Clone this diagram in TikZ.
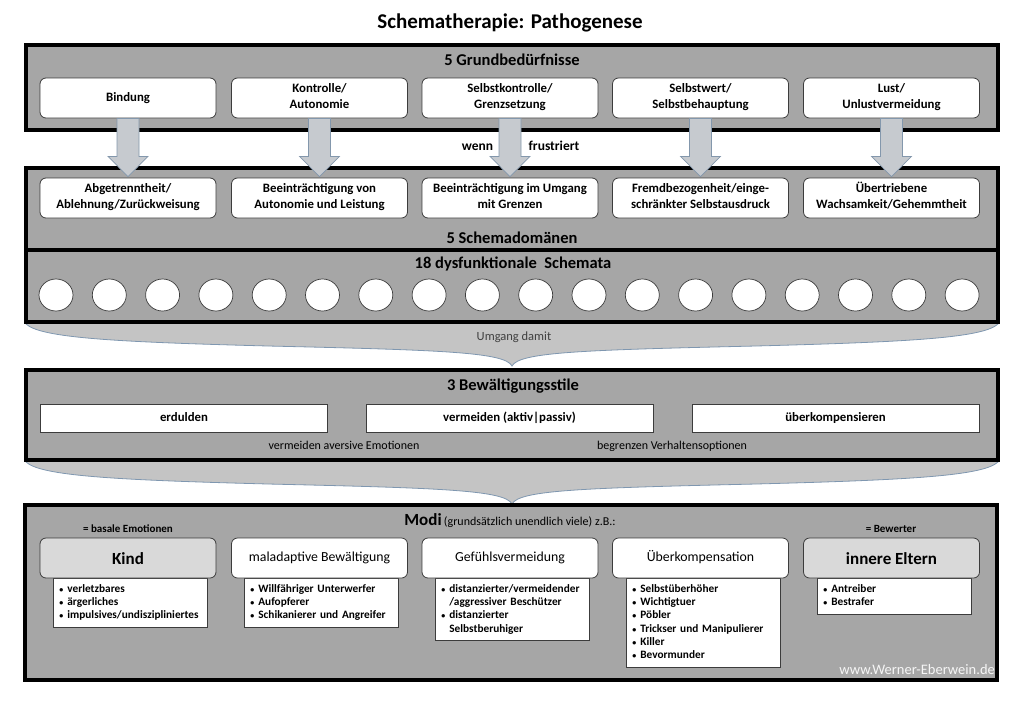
\documentclass[tikz,border=0pt]{standalone}
\usepackage{fontspec}
\setmainfont{Carlito}
\usetikzlibrary{shapes.geometric,calc}
\definecolor{panelgray}{HTML}{A6A6A6}
\definecolor{headgray}{HTML}{D9D9D9}
\definecolor{boxline}{HTML}{3C3C3C}
\definecolor{bracefill}{HTML}{C4C4C4}
\definecolor{braceline}{HTML}{7F97B0}
\definecolor{arrowfill}{HTML}{C6CACF}
\definecolor{arrowline}{HTML}{8397AC}
\begin{document}
\begin{tikzpicture}[x=1pt,y=-1pt,
  panel/.style={draw=black,line width=4pt,fill=panelgray,inner sep=0pt,minimum width=972pt},
  ptitle/.style={anchor=base,font=\fontsize{16.5}{18}\selectfont\bfseries,inner sep=0pt},
  needbox/.style={draw=boxline,line width=0.8pt,fill=white,rounded corners=6pt,minimum width=176pt,minimum height=40pt,align=center,font=\fontsize{12.8}{16}\selectfont\bfseries,inner sep=1pt,execute at begin node={\strut},execute at end node={\strut}},
  bigarrow/.style={draw=arrowline,line width=0.7pt,fill=arrowfill},
  brace/.style={draw=braceline,line width=0.8pt,fill=bracefill},
  schema/.style={ellipse,draw=boxline,line width=0.7pt,fill=white,minimum width=34pt,minimum height=32pt,inner sep=0pt},
  stilbox/.style={draw=boxline,line width=0.8pt,fill=white,minimum width=287pt,minimum height=28pt,font=\fontsize{12.8}{15}\selectfont\bfseries,inner sep=0pt,execute at begin node={\strut}},
  smalltext/.style={anchor=base,font=\fontsize{12}{14}\selectfont,inner sep=0pt},
  modebox/.style={needbox,font=\fontsize{13.8}{17}\selectfont},
  modehead/.style={needbox,fill=headgray,font=\fontsize{17}{19}\selectfont\bfseries,text height=13pt,text depth=1pt},
  listbox/.style={draw=boxline,line width=0.8pt,fill=white,anchor=north west,inner xsep=6pt,inner ysep=4.5pt,text width=142pt,align=left,font=\fontsize{11.3}{13.3}\selectfont\bfseries},
  note/.style={anchor=base,font=\fontsize{11}{12}\selectfont\bfseries,inner sep=0pt},
]
\useasboundingbox (0,0) rectangle (1024,709);
\newcommand{\bul}{{\fontsize{8}{8}\selectfont•}}

% title
\node[anchor=base,font=\fontsize{21}{24}\selectfont\bfseries,inner sep=0pt] (title) at (510,29) {Schematherapie: Pathogenese};

% braces (behind panels)
\draw[brace] (26,320) -- (998,320) -- (998,324) .. controls (983,338) and (908,342) .. (756,346) .. controls (584,350) and (519,352) .. (512,366) .. controls (505,352) and (440,350) .. (268,346) .. controls (116,342) and (41,338) .. (26,324) -- cycle;
\begin{scope}[yshift=-138pt]
\draw[brace] (26,320) -- (998,320) -- (998,324) .. controls (983,338) and (908,342) .. (756,346) .. controls (584,350) and (519,352) .. (512,366) .. controls (505,352) and (440,350) .. (268,346) .. controls (116,342) and (41,338) .. (26,324) -- cycle;
\end{scope}
\node[anchor=base,font=\fontsize{12.5}{14}\selectfont,text=black!75,inner sep=0pt] (umgang) at (514,340) {Umgang damit};

% panels
\node[panel,minimum height=85pt] (p1) at (512,87.5) {};
\node[panel,minimum height=82pt] (p2) at (512,209) {};
\node[panel,minimum height=72pt] (p3) at (512,286) {};
\node[panel,minimum height=90pt] (p4) at (512,415) {};
\node[panel,minimum height=175pt] (p5) at (511,592.5) {};

% panel titles
\node[ptitle] (t1) at (512,65) {5 Grundbedürfnisse};
\node[ptitle] (t2) at (512,243) {5 Schemadomänen};
\node[ptitle] (t3) at (513,268) {18 dysfunktionale\ \ Schemata};
\node[ptitle] (t4) at (513,390) {3 Bewältigungsstile};

% needs
\node[needbox] (a1) at (128,98) {Bindung};
\node[needbox] (a2) at (319.5,98) {Kontrolle/\\Autonomie};
\node[needbox] (a3) at (510,98) {Selbstkontrolle/\\Grenzsetzung};
\node[needbox] (a4) at (700.5,98) {Selbstwert/\\Selbstbehauptung};
\node[needbox] (a5) at (891.5,98) {Lust/\\Unlustvermeidung};

% domains
\node[needbox] (b1) at (128,198) {Abgetrenntheit/\\Ablehnung/Zurückweisung};
\node[needbox] (b2) at (319.5,198) {Beeinträchtigung von\\Autonomie und Leistung};
\node[needbox] (b3) at (510,198) {Beeinträchtigung im Umgang\\mit Grenzen};
\node[needbox] (b4) at (700.5,198) {Fremdbezogenheit/einge-\\schränkter Selbstausdruck};
\node[needbox] (b5) at (891.5,198) {Übertriebene\\Wachsamkeit/Gehemmtheit};

% arrows
\foreach \i in {1,...,5}{
  \draw[bigarrow] ([xshift=-11pt]a\i.south) -- ([xshift=-11pt,yshift=-38pt]a\i.south) -- ([xshift=-20pt,yshift=-38pt]a\i.south) -- ([yshift=1pt]b\i.north) -- ([xshift=20pt,yshift=-38pt]a\i.south) -- ([xshift=11pt,yshift=-38pt]a\i.south) -- ([xshift=11pt]a\i.south) -- cycle;
}
\node[anchor=base,font=\fontsize{13.5}{15}\selectfont\bfseries,inner sep=0pt] (wenn) at (477.5,150) {wenn};
\node[anchor=base,font=\fontsize{13.5}{15}\selectfont\bfseries,inner sep=0pt] (frust) at (554,150) {frustriert};

% schemata
\foreach \i in {1,...,18}{
  \node[schema] (c\i) at ({56+(\i-1)*53.3},295) {};
}

% coping styles
\node[stilbox] (s1) at (184,418) {erdulden};
\node[stilbox] (s2) at (509.5,418) {vermeiden (aktiv|passiv)};
\node[stilbox] (s3) at (835.5,418) {überkompensieren};
\node[smalltext] (v1) at (344,449) {vermeiden aversive Emotionen};
\node[smalltext] (v2) at (672,449) {begrenzen Verhaltensoptionen};

% modes
\node[anchor=base,inner sep=0pt] (modi) at (510,525) {{\fontsize{17}{18}\selectfont\bfseries Modi} {\fontsize{12}{14}\selectfont(grundsätzlich unendlich viele) z.B.:}};
\node[note] (basal) at (128,532) {= basale Emotionen};
\node[note] (bewerter) at (891,532) {= Bewerter};

\node[listbox] (l1) at (53,578) {\begin{tabular}{@{}l@{\hspace{4pt}}l@{}}\bul & verletzbares\\ \bul & ärgerliches\\ \bul & impulsives/undiszipliniertes\end{tabular}};
\node[listbox] (l2) at (244,578) {\begin{tabular}{@{}l@{\hspace{4pt}}l@{}}\bul & Willfähriger Unterwerfer\\ \bul & Aufopferer\\ \bul & Schikanierer und Angreifer\end{tabular}};
\node[listbox] (l3) at (435,578) {\begin{tabular}{@{}l@{\hspace{4pt}}l@{}}\bul & distanzierter/vermeidender\\ & /aggressiver Beschützer\\ \bul & distanzierter\\ & Selbstberuhiger\end{tabular}};
\node[listbox] (l4) at (626,578) {\begin{tabular}{@{}l@{\hspace{4pt}}l@{}}\bul & Selbstüberhöher\\ \bul & Wichtigtuer\\ \bul & Pöbler\\ \bul & Trickser und Manipulierer\\ \bul & Killer\\ \bul & Bevormunder\end{tabular}};
\node[listbox] (l5) at (817,578) {\begin{tabular}{@{}l@{\hspace{4pt}}l@{}}\bul & Antreiber\\ \bul & Bestrafer\end{tabular}};

\node[modehead] (m1) at (128,558) {Kind};
\node[modebox] (m2) at (319.5,558) {maladaptive Bewältigung};
\node[modebox] (m3) at (510,558) {Gefühlsvermeidung};
\node[modebox] (m4) at (700.5,558) {Überkompensation};
\node[modehead] (m5) at (891.5,558) {innere Eltern};

\node[anchor=base east,font=\fontsize{14.5}{16}\selectfont,text=white!92!gray,inner sep=0pt] (www) at (995,674) {www.Werner-Eberwein.de};
\end{tikzpicture}
\end{document}
